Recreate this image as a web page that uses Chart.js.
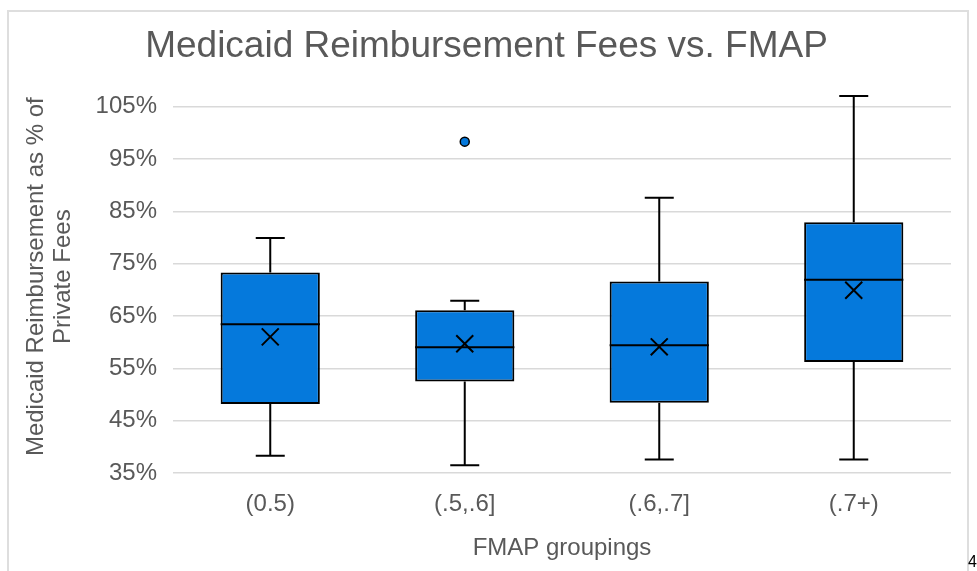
<!DOCTYPE html>
<html lang="en">
<head>
    <meta charset="UTF-8">
    <title>Medicaid Reimbursement Fees vs. FMAP</title>
    <script src="https://cdn.jsdelivr.net/npm/chart.js"></script>
    <style>
        html, body {
            margin: 0;
            padding: 0;
            background: #fff;
        }
        body {
            width: 977px;
            height: 571px;
            position: relative;
            overflow: hidden;
            font-family: "Liberation Sans", Arial, sans-serif;
        }
        .frame {
            position: absolute;
            left: 7px;
            top: 10px;
            width: 958px;
            height: 600px;
            border: 2px solid #dedede;
        }
        .chart-box {
            position: absolute;
            left: 0;
            top: 0;
            width: 977px;
            height: 571px;
        }
        .page-num {
            position: absolute;
            left: 968px;
            top: 553px;
            font-size: 16px;
            line-height: 18px;
            color: #000;
        }
    </style>
</head>
<body>
    <div class="frame"></div>
    <div class="chart-box">
        <canvas id="boxChart"></canvas>
    </div>
    <div class="page-num">4</div>

    <script>
        // values (percent)
        const categories = ['(0.5)', '(.5,.6]', '(.6,.7]', '(.7+)'];
        const whiskerLow = [38.3, 36.5, 37.6, 37.6];
        const q1 = [48.2, 52.5, 48.4, 56.2];
        const median = [63.4, 59.0, 59.4, 71.9];
        const q3 = [73.3, 66.1, 71.6, 82.9];
        const whiskerHigh = [79.9, 67.9, 87.6, 107.0];
        const means = [61.0, 59.7, 59.1, 69.9];
        const outliers = [null, 98.3, null, null];
        const yTicks = [35, 45, 55, 65, 75, 85, 95, 105];

        const boxBlue = '#0579dc';
        const textGray = '#595959';

        // median line + whiskers, drawn right after the boxes
        const boxPlotLines = {
            id: 'boxPlotLines',
            afterDatasetDraw(chart, args) {
                if (args.index !== 0) return;
                const ctx = chart.ctx;
                const x = chart.scales.x;
                const y = chart.scales.y;
                const bars = args.meta.data;
                const cap = 14.5;
                ctx.save();
                ctx.strokeStyle = '#000';
                ctx.lineWidth = 2;
                categories.forEach((c, i) => {
                    const cx = x.getPixelForValue(i);
                    const half = bars[i].width / 2;
                    const yMed = y.getPixelForValue(median[i]);
                    const yHi = y.getPixelForValue(whiskerHigh[i]);
                    const yLo = y.getPixelForValue(whiskerLow[i]);
                    ctx.beginPath();
                    ctx.moveTo(cx - half, yMed);
                    ctx.lineTo(cx + half, yMed);
                    ctx.moveTo(cx, y.getPixelForValue(q3[i]));
                    ctx.lineTo(cx, yHi);
                    ctx.moveTo(cx - cap, yHi);
                    ctx.lineTo(cx + cap, yHi);
                    ctx.moveTo(cx, y.getPixelForValue(q1[i]));
                    ctx.lineTo(cx, yLo);
                    ctx.moveTo(cx - cap, yLo);
                    ctx.lineTo(cx + cap, yLo);
                    ctx.stroke();
                });
                ctx.restore();
            }
        };

        const ctx = document.getElementById('boxChart').getContext('2d');
        new Chart(ctx, {
            type: 'bar',
            data: {
                labels: categories,
                datasets: [{
                    label: 'Box',
                    data: categories.map((c, i) => [q1[i], q3[i]]),
                    backgroundColor: boxBlue,
                    borderColor: '#000',
                    borderWidth: 2,
                    borderSkipped: false,
                    barPercentage: 0.51,
                    categoryPercentage: 1,
                    order: 2
                }, {
                    type: 'line',
                    label: 'Mean',
                    data: means,
                    showLine: false,
                    pointStyle: 'crossRot',
                    pointRadius: 12,
                    pointBorderColor: '#000',
                    pointBorderWidth: 2,
                    order: 1
                }, {
                    type: 'line',
                    label: 'Outlier',
                    data: outliers,
                    showLine: false,
                    pointStyle: 'circle',
                    pointRadius: 4.5,
                    pointBackgroundColor: boxBlue,
                    pointBorderColor: '#000',
                    pointBorderWidth: 1.5,
                    order: 1
                }]
            },
            options: {
                responsive: true,
                maintainAspectRatio: false,
                animation: false,
                layout: {
                    padding: { left: 22, right: 26, top: 0, bottom: 0 }
                },
                plugins: {
                    legend: { display: false },
                    tooltip: { enabled: false },
                    title: {
                        display: true,
                        text: 'Medicaid Reimbursement Fees vs. FMAP',
                        color: textGray,
                        font: { family: 'Liberation Sans', size: 37, weight: 'normal' },
                        padding: { top: 25, bottom: 11 }
                    }
                },
                scales: {
                    x: {
                        grid: { display: false, drawTicks: false },
                        border: { display: false },
                        ticks: {
                            color: textGray,
                            font: { family: 'Liberation Sans', size: 24 },
                            padding: 17
                        },
                        title: {
                            display: true,
                            text: 'FMAP groupings',
                            color: textGray,
                            font: { family: 'Liberation Sans', size: 24 },
                            padding: { top: 0, bottom: 8 }
                        },
                        afterFit(scale) {
                            scale.height = 98;
                        }
                    },
                    y: {
                        min: 35,
                        max: 110,
                        afterBuildTicks(scale) {
                            scale.ticks = yTicks.map(v => ({ value: v }));
                        },
                        grid: { color: '#d9d9d9', lineWidth: 1.5, drawTicks: false },
                        border: { display: false },
                        ticks: {
                            color: textGray,
                            font: { family: 'Liberation Sans', size: 24 },
                            padding: 16,
                            callback: v => v + '%'
                        },
                        title: {
                            display: true,
                            text: ['Medicaid Reimbursement as % of', 'Private Fees'],
                            color: textGray,
                            font: { family: 'Liberation Sans', size: 24, lineHeight: 1.125 },
                            padding: { top: 1, bottom: 0 }
                        },
                        afterFit(scale) {
                            scale.width = 151;
                        }
                    }
                }
            },
            plugins: [boxPlotLines]
        });
    </script>
</body>
</html>
